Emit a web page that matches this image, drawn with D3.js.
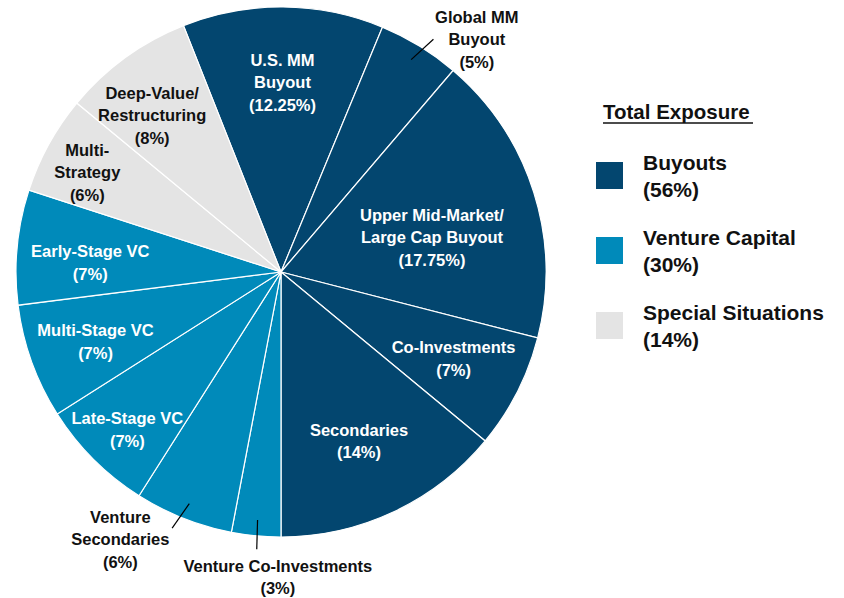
<!DOCTYPE html>
<html lang="en">
<head>
<meta charset="UTF-8">
<title>Total Exposure</title>
<style>
    body { margin: 0; background: #fff; }
    svg text { font-family: "Liberation Sans", Arial, sans-serif; font-weight: bold; }
</style>
</head>
<body>
<div id="chart"></div>
<script src="https://d3js.org/d3.v7.min.js"></script>
<script>
    // Slices, clockwise from the U.S. MM Buyout slice
    const names = ["U.S. MM|Buyout", "Global MM|Buyout", "Upper Mid-Market/|Large Cap Buyout",
        "Co-Investments", "Secondaries", "Venture Co-Investments", "Venture|Secondaries",
        "Late-Stage VC", "Multi-Stage VC", "Early-Stage VC", "Multi-|Strategy", "Deep-Value/|Restructuring"];
    const values = [12.25, 5, 17.75, 7, 14, 3, 6, 7, 7, 7, 6, 8];
    const groups = ["Buyouts", "Buyouts", "Buyouts", "Buyouts", "Buyouts",
        "Venture Capital", "Venture Capital", "Venture Capital", "Venture Capital", "Venture Capital",
        "Special Situations", "Special Situations"];

    // Legend
    const groupNames = ["Buyouts", "Venture Capital", "Special Situations"];
    const groupTotals = [56, 30, 14];
    const colors = ["#03466f", "#008aba", "#e4e4e4"];

    const W = 844, H = 598;
    const cx = 281, cy = 272, R = 265;

    // label placement: radius (px) and angle nudge (deg) from slice middle;
    // out = leader line, lt = leader tilt (rad)
    const labelPos = [
        { r: 190, da: 0 }, { r: 304, da: 8.6, out: true, lt: 0.03 }, { r: 155, da: 4.5 },
        { r: 193, da: -0.4 }, { r: 186, da: 0.4 }, { r: 305, da: -4.8, out: true, lt: -0.007 },
        { r: 312, da: 9.4, out: true, lt: 0.025 }, { r: 220, da: -0.7 }, { r: 198, da: -0.7 },
        { r: 191, da: -2.6 }, { r: 218, da: -1.5 }, { r: 203, da: -3.4 }
    ];

    const data = names.map((n, i) => ({ name: n, value: values[i], group: groups[i], pos: labelPos[i] }));

    const color = d3.scaleOrdinal().domain(groupNames).range(colors);

    const svg = d3.select("#chart").append("svg")
        .attr("width", W).attr("height", H);

    const g = svg.append("g").attr("transform", `translate(${cx},${cy})`);

    // secondaries ends straight down
    const start = Math.PI - 2 * Math.PI * groupTotals[0] / 100;
    const pie = d3.pie().value(d => d.value).sort(null)
        .startAngle(start).endAngle(start + 2 * Math.PI);
    const arc = d3.arc().innerRadius(0).outerRadius(R);

    const arcs = pie(data);

    g.selectAll("path.slice")
        .data(arcs)
        .enter().append("path")
        .attr("class", "slice")
        .attr("d", arc)
        .attr("fill", d => color(d.data.group))
        .attr("stroke", "#fff")
        .attr("stroke-width", 1.2);

    const polar = (a, r) => [Math.sin(a) * r, -Math.cos(a) * r];
    const mid = d => (d.startAngle + d.endAngle) / 2;

    // leader lines for outside labels
    g.selectAll("line.leader")
        .data(arcs.filter(d => d.data.pos.out))
        .enter().append("line")
        .attr("class", "leader")
        .attr("x1", d => polar(mid(d), R * 0.94)[0])
        .attr("y1", d => polar(mid(d), R * 0.94)[1])
        .attr("x2", d => polar(mid(d) + d.data.pos.lt, R * 1.05)[0])
        .attr("y2", d => polar(mid(d) + d.data.pos.lt, R * 1.05)[1])
        .attr("stroke", "#000")
        .attr("stroke-width", 1.2);

    const lineH = 22.5;
    g.selectAll("text.label")
        .data(arcs)
        .enter().append("text")
        .attr("class", "label")
        .attr("text-anchor", "middle")
        .style("font-size", "16.5px")
        .attr("fill", d => (d.data.pos.out || d.data.group === "Special Situations") ? "#111" : "#fff")
        .each(function(d) {
            const a = mid(d) + d.data.pos.da * Math.PI / 180;
            const [x, y] = polar(a, d.data.pos.r);
            const lines = d.data.name.split("|").concat(["(" + d.data.value + "%)"]);
            const n = lines.length;
            d3.select(this).selectAll("tspan")
                .data(lines)
                .enter().append("tspan")
                .attr("x", x)
                .attr("y", (l, i) => y + (i - (n - 1) / 2) * lineH + 6)
                .text(l => l);
        });

    // legend
    const legend = svg.append("g").attr("transform", "translate(596,0)");

    legend.append("text")
        .attr("x", 7).attr("y", 119)
        .style("font-size", "20.5px")
        .attr("fill", "#111")
        .text("Total Exposure");
    legend.append("line")
        .attr("x1", 7).attr("x2", 157)
        .attr("y1", 123).attr("y2", 123)
        .attr("stroke", "#111").attr("stroke-width", 1.5);

    const item = legend.selectAll("g.item")
        .data(groupNames)
        .enter().append("g")
        .attr("class", "item")
        .attr("transform", (d, i) => `translate(0,${162 + i * 75})`);

    item.append("rect")
        .attr("width", 27).attr("height", 27)
        .attr("fill", d => color(d));

    item.append("text")
        .attr("x", 47).attr("y", 8)
        .style("font-size", "21px")
        .attr("fill", "#111")
        .text(d => d);

    item.append("text")
        .attr("x", 47).attr("y", 35)
        .style("font-size", "21px")
        .attr("fill", "#111")
        .text((d, i) => "(" + groupTotals[i] + "%)");
</script>
</body>
</html>
